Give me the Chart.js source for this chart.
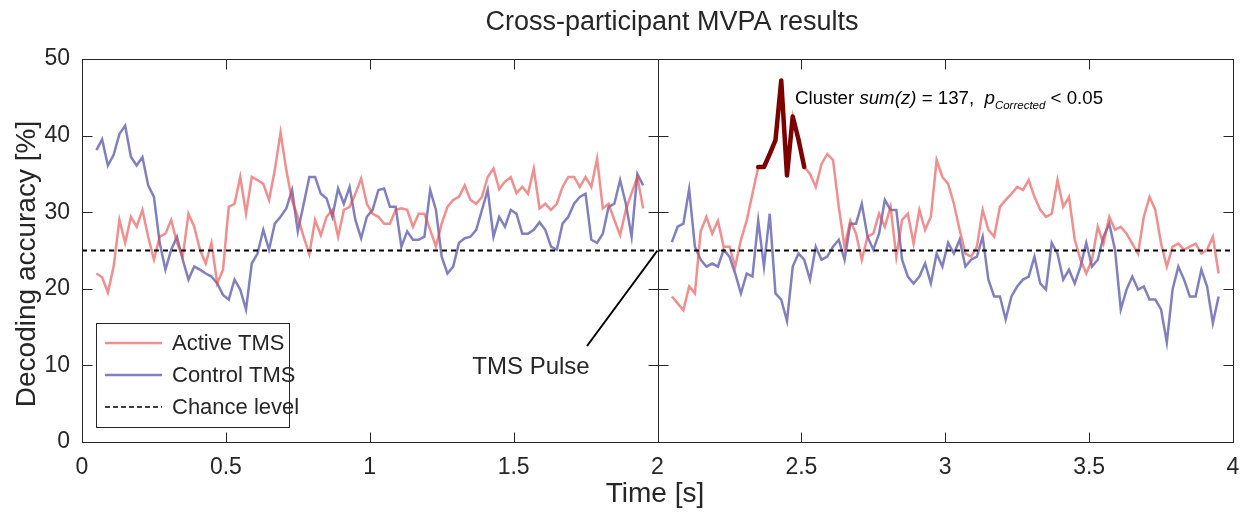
<!DOCTYPE html>
<html>
<head>
<meta charset="utf-8">
<title>Cross-participant MVPA results</title>
<script src="https://cdn.jsdelivr.net/npm/chart.js@4/dist/chart.umd.min.js"></script>
<style>
    html, body { margin: 0; padding: 0; background: #fff; }
    #chart { display: block; }
</style>
</head>
<body>
<canvas id="chart" width="1246" height="512"></canvas>
<script>
// sampling grid (s): before and after the pulse
const timePre = Array.from({ length: 96 }, (_, i) => Math.round((0.05 + i * 0.02) * 100) / 100);
const timePost = Array.from({ length: 96 }, (_, i) => Math.round((2.05 + i * 0.02) * 100) / 100);

// decoding accuracy [%]
const activePre = [
    22, 21.5, 19.5, 22.9, 29, 26, 29.4, 28.1, 30.3, 26.8,
    23.8, 26.8, 27.2, 29, 26, 24.2, 29.8, 28.1, 25.1, 23.3,
    26, 20.7, 22.5, 30.7, 31.1, 34.6, 29.8, 34.6, 34.2, 33.7,
    31.6, 35.5, 40.4, 35.5, 31.5, 29.4, 26.8, 24.5, 29, 27,
    29.4, 30.3, 26.8, 30.3, 30.7, 32.4, 34.4, 31.1, 29.8, 29.4,
    28.5, 28.5, 30.3, 30.5, 30.3, 28.1, 29.8, 29.8, 27.7, 25.5,
    28.5, 30.7, 31.6, 32, 33.5, 31.6, 31.1, 32, 34.6, 35.7,
    33, 34, 34.6, 32.5, 33.3, 32.4, 35.7, 30.5, 31.1, 30.3,
    31.1, 33.3, 34.6, 34.6, 33.3, 34.6, 33.3, 37, 30.5, 31.1,
    29, 27, 30.3, 32.5, 34.6, 30.5,
];
const controlPre = [
    38.1, 39.5, 36.1, 37.5, 40.2, 41.3, 37.2, 36.1, 37.2, 33.5,
    32, 26, 22.5, 25.1, 26.8, 23.8, 21.2, 22.9, 22.5, 22,
    21.6, 20.7, 19.2, 18.6, 21.2, 19.9, 17.3, 23.3, 24.6, 27.7,
    25.1, 28.5, 29.4, 30.5, 32.9, 27.5, 31, 34.6, 34.6, 32.4,
    31.8, 29.4, 33.1, 31.1, 33.3, 29, 26.6, 29.4, 30.3, 32.9,
    33.1, 30.7, 30.7, 25.5, 27.5, 26.4, 26.4, 26.8, 32.9, 30.3,
    24.2, 22, 22.9, 26, 26.6, 26.8, 27.7, 30.3, 32.9, 26.8,
    29.4, 28.1, 30.3, 29.8, 27.2, 27.2, 27.7, 28.7, 27.7, 25.5,
    25.1, 28.5, 29.4, 31.1, 32, 32.4, 26.4, 26, 27.2, 30.7,
    31.1, 34.2, 31.1, 26.8, 35, 33.5,
];
const activePost = [
    19, 18.1, 17.2, 20.3, 19.4, 27.5, 29.4, 27.2, 28.9, 25.5,
    25.5, 22.9, 26.4, 28.9, 32.4, 35.9, 35.9, 37.6, 39.4, 47.2,
    34.8, 42.5, 39.5, 35.9, 35, 33.3, 36.3, 37.6, 36.8, 30.7,
    25.5, 28.9, 27.2, 23.8, 26.8, 27.2, 29.8, 28.1, 30.7, 24.2,
    29, 29.8, 25.9, 30.3, 27.7, 29.4, 36.8, 34.6, 33.7, 31.1,
    27.7, 24.6, 24.2, 25.5, 30.3, 27.7, 26.8, 30.7, 31.6, 32.4,
    33.3, 32.9, 34.2, 32, 30.3, 29.4, 29.8, 34.2, 30.7, 32,
    26.4, 23.8, 22, 23.8, 28.1, 25.9, 29.4, 27.7, 28.1, 27.2,
    25.9, 24.6, 29.4, 32, 30.3, 25.9, 22.9, 25.5, 25.9, 25.1,
    25.5, 25.9, 24.6, 25.1, 26.8, 22,
];
const controlPost = [
    26.1, 28.1, 28.5, 33, 25.5, 23.8, 22.9, 23.3, 22.9, 25.1,
    24.2, 22, 19.4, 22, 21.6, 28.9, 22.9, 29.8, 19.4, 18.6,
    15.8, 22.9, 24.6, 23.8, 21.2, 25.5, 23.8, 24.2, 25.5, 26.4,
    23.8, 28.5, 28.5, 31.1, 26.8, 25.1, 27.2, 31.6, 30.3, 30.3,
    23.8, 21.6, 20.7, 21.6, 23.3, 20.7, 24.6, 22.9, 26, 24.6,
    26.4, 22.9, 23.8, 24.2, 26.8, 21.2, 19, 19, 16, 19,
    20.3, 21.2, 21.6, 24.2, 20.7, 19.9, 26, 24.6, 21.2, 22.5,
    20.7, 22.9, 26, 22.9, 23.8, 26.8, 28.5, 25.1, 17.3, 19.9,
    21.6, 19.9, 20.3, 18.6, 18.6, 17.3, 13, 19.9, 22.9, 21.2,
    19, 19, 22.5, 20.3, 15.5, 19,
];

const chanceLevel = 25;
const pulseTime = 2;
const clusterRange = [2.34, 2.52];
const xTickValues = [0, 0.5, 1, 1.5, 2, 2.5, 3, 3.5, 4];
const yTickValues = [0, 10, 20, 30, 40, 50];
const legendLabels = ["Active TMS", "Control TMS", "Chance level"];

const FONT = '"Liberation Sans", Arial, sans-serif';
const TEXT = "#262626";
const RED = "rgba(232, 72, 72, 0.62)";
const BLUE = "rgba(44, 44, 150, 0.6)";
const DARK_RED = "#7d0000";

const toPoints = (times, values) => times.map((t, i) => ({ x: t, y: values[i] }));
const withGap = (a, b) => [...a, { x: pulseTime, y: null }, ...b];

const activePoints = withGap(toPoints(timePre, activePre), toPoints(timePost, activePost));
const controlPoints = withGap(toPoints(timePre, controlPre), toPoints(timePost, controlPost));
const clusterPoints = toPoints(timePost, activePost).filter((p) => p.x >= clusterRange[0] && p.x <= clusterRange[1]);

function drawRuns(ctx, x, y, runs) {
    runs.forEach(([text, style, size, dy]) => {
        ctx.font = `${style}${size}px ${FONT}`;
        ctx.fillText(text, x, y + dy);
        x += ctx.measureText(text).width;
    });
}

const frameAndNotes = {
    id: "frameAndNotes",
    afterDatasetsDraw(chart) {
        const { ctx, chartArea: a, scales } = chart;
        const xs = scales.x;
        const ys = scales.y;
        const L = Math.round(a.left) + 0.5;
        const R = Math.round(a.right) + 0.5;
        const T = Math.round(a.top) + 0.5;
        const B = Math.round(a.bottom) + 0.5;
        const tick = 10;
        ctx.save();

        // box and pulse line
        ctx.strokeStyle = TEXT;
        ctx.lineWidth = 1;
        ctx.strokeRect(L, T, R - L, B - T);
        const xm = Math.round(xs.getPixelForValue(pulseTime)) + 0.5;
        ctx.beginPath();
        ctx.moveTo(xm, T);
        ctx.lineTo(xm, B);
        ctx.stroke();

        // inward ticks
        ctx.beginPath();
        xTickValues.forEach((v) => {
            const px = Math.round(xs.getPixelForValue(v)) + 0.5;
            ctx.moveTo(px, B);
            ctx.lineTo(px, B - tick);
            ctx.moveTo(px, T);
            ctx.lineTo(px, T + tick);
        });
        yTickValues.forEach((v) => {
            const py = Math.round(ys.getPixelForValue(v)) + 0.5;
            ctx.moveTo(L, py);
            ctx.lineTo(L + tick, py);
            ctx.moveTo(R, py);
            ctx.lineTo(R - tick, py);
            ctx.moveTo(xm - tick, py);
            ctx.lineTo(xm + tick, py);
        });
        ctx.stroke();

        // titles
        ctx.fillStyle = TEXT;
        ctx.textAlign = "center";
        ctx.textBaseline = "middle";
        ctx.font = `27px ${FONT}`;
        ctx.fillText("Cross-participant MVPA results", 672, 23);
        ctx.font = `28px ${FONT}`;
        ctx.fillText("Time [s]", 655, 494);
        ctx.save();
        ctx.translate(27, 264);
        ctx.rotate(-Math.PI / 2);
        ctx.fillText("Decoding accuracy [%]", 0, 0);
        ctx.restore();

        // TMS pulse pointer
        ctx.font = `24px ${FONT}`;
        ctx.fillText("TMS Pulse", 531, 367);
        ctx.strokeStyle = "#000";
        ctx.lineWidth = 2;
        ctx.beginPath();
        ctx.moveTo(587, 346);
        ctx.lineTo(xm - 1, ys.getPixelForValue(chanceLevel));
        ctx.stroke();

        // cluster note
        ctx.textAlign = "left";
        ctx.textBaseline = "alphabetic";
        ctx.fillStyle = "#000";
        drawRuns(ctx, 795, 104, [
            ["Cluster ", "", 18.7, 0],
            ["sum(z)", "italic ", 18.7, 0],
            [" = 137,  ", "", 18.7, 0],
            ["p", "italic ", 18.7, 0],
            ["Corrected", "italic ", 11.5, 5],
            [" < 0.05", "", 18.7, 0],
        ]);

        // legend
        ctx.fillStyle = "#fff";
        ctx.fillRect(96.5, 323.5, 193, 104);
        ctx.strokeStyle = TEXT;
        ctx.lineWidth = 1;
        ctx.strokeRect(96.5, 323.5, 193, 104);
        const styles = [
            { color: RED, width: 2.5, dash: [] },
            { color: BLUE, width: 2.5, dash: [] },
            { color: "#000", width: 1.5, dash: [5, 3] },
        ];
        ctx.font = `22px ${FONT}`;
        ctx.textBaseline = "middle";
        legendLabels.forEach((label, i) => {
            const yy = 343 + i * 32;
            ctx.strokeStyle = styles[i].color;
            ctx.lineWidth = styles[i].width;
            ctx.setLineDash(styles[i].dash);
            ctx.beginPath();
            ctx.moveTo(105, yy);
            ctx.lineTo(162, yy);
            ctx.stroke();
            ctx.setLineDash([]);
            ctx.fillStyle = TEXT;
            ctx.fillText(label, 172, yy + 1);
        });

        ctx.restore();
    },
};

new Chart(document.getElementById("chart"), {
    type: "line",
    data: {
        datasets: [
            {
                label: "Chance level",
                data: [{ x: 0, y: chanceLevel }, { x: 4, y: chanceLevel }],
                borderColor: "#000",
                borderWidth: 2,
                borderDash: [5, 4],
                order: 0,
            },
            {
                label: "Cluster",
                data: clusterPoints,
                borderColor: DARK_RED,
                borderWidth: 4.5,
                borderJoinStyle: "round",
                borderCapStyle: "round",
                order: 1,
            },
            {
                label: "Active TMS",
                data: activePoints,
                borderColor: RED,
                borderWidth: 2.5,
                order: 2,
            },
            {
                label: "Control TMS",
                data: controlPoints,
                borderColor: BLUE,
                borderWidth: 2.5,
                order: 3,
            },
        ],
    },
    options: {
        responsive: false,
        animation: false,
        spanGaps: false,
        elements: {
            point: { radius: 0, hoverRadius: 0 },
            line: { tension: 0, fill: false },
        },
        layout: { padding: { top: 59, right: 13, left: 0, bottom: 0 } },
        plugins: {
            legend: { display: false },
            tooltip: { enabled: false },
        },
        scales: {
            x: {
                type: "linear",
                min: 0,
                max: 4,
                afterFit: (scale) => {
                    scale.height = 70;
                    scale.paddingLeft = 0;
                    scale.paddingRight = 0;
                },
                afterBuildTicks: (scale) => { scale.ticks = xTickValues.map((v) => ({ value: v })); },
                grid: { display: false, drawTicks: false },
                border: { display: false },
                ticks: {
                    padding: 12,
                    maxRotation: 0,
                    autoSkip: false,
                    color: TEXT,
                    font: { family: FONT, size: 23 },
                    callback: (v) => String(v),
                },
            },
            y: {
                min: 0,
                max: 50,
                afterFit: (scale) => {
                    scale.width = 82;
                    scale.paddingTop = 0;
                    scale.paddingBottom = 0;
                },
                afterBuildTicks: (scale) => { scale.ticks = yTickValues.map((v) => ({ value: v })); },
                grid: { display: false, drawTicks: false },
                border: { display: false },
                ticks: {
                    padding: 12,
                    color: TEXT,
                    font: { family: FONT, size: 23 },
                    callback: (v) => String(v),
                },
            },
        },
    },
    plugins: [frameAndNotes],
});
</script>
</body>
</html>
